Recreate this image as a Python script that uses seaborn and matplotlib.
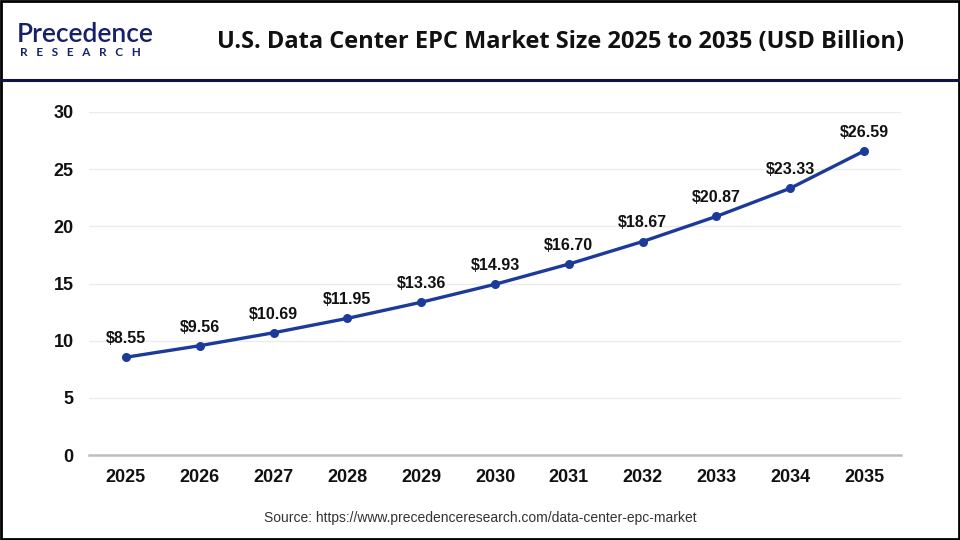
import pandas as pd
import matplotlib.pyplot as plt
import seaborn as sns
from matplotlib.lines import Line2D
from matplotlib.patches import Rectangle

# chart data
years = [2025, 2026, 2027, 2028, 2029, 2030, 2031, 2032, 2033, 2034, 2035]
market_size = [8.55, 9.56, 10.69, 11.95, 13.36, 14.93, 16.70, 18.67, 20.87, 23.33, 26.59]
y_ticks = [0, 5, 10, 15, 20, 25, 30]

title = "U.S. Data Center EPC Market Size 2025 to 2035 (USD Billion)"
source = "Source: https://www.precedenceresearch.com/data-center-epc-market"

df = pd.DataFrame({"year": years, "size": market_size})

sns.set_style("white")
plt.rcParams["font.family"] = ["Liberation Sans", "DejaVu Sans"]

line_color = "#1b3a9a"

fig = plt.figure(figsize=(9.6, 5.4), dpi=100)
ax = fig.add_axes([89 / 960, 85 / 540, 812 / 960, 343 / 540])

sns.lineplot(data=df, x="year", y="size", ax=ax, color=line_color, linewidth=2.4,
             marker="o", markersize=6.5, markeredgewidth=0)

for x, y in zip(years, market_size):
    ax.annotate(f"${y:.2f}", (x, y), xytext=(0, 8), textcoords="offset points",
                ha="center", va="bottom", fontsize=11.5, fontweight="bold", color="#111111")

ax.set_xlim(2024.5, 2035.5)
ax.set_ylim(0, 30)
ax.set_xticks(years)
ax.set_xticklabels([str(y) for y in years])
ax.set_yticks(y_ticks)
ax.set_xlabel("")
ax.set_ylabel("")
ax.grid(axis="y", color="#ebebeb", linewidth=1)
ax.set_axisbelow(True)
for s in ["top", "right", "left"]:
    ax.spines[s].set_visible(False)
ax.spines["bottom"].set_color("#bdbdbd")
ax.spines["bottom"].set_linewidth(1.8)
ax.tick_params(axis="both", length=0, labelsize=13, colors="#111111")
ax.tick_params(axis="x", pad=10)
ax.tick_params(axis="y", pad=11)
for lbl in ax.get_xticklabels() + ax.get_yticklabels():
    lbl.set_fontweight("bold")

# header
fig.text(561 / 960, 1 - 42 / 540, title, ha="center", va="center",
         fontsize=17, fontweight="bold", family="Open Sans", color="#111111")
fig.text(17 / 960, 1 - 34 / 540, "Precedence", ha="left", va="center",
         fontsize=19, fontweight="semibold", family="Lato", color="#16206a")
fig.text(20 / 960, 1 - 53 / 540, "R   E   S   E   A   R   C   H", ha="left", va="center",
         fontsize=8.5, fontweight="bold", family="Lato", color="#16206a")
fig.add_artist(Line2D([0, 1], [1 - 80 / 540] * 2, color="#0e1444", linewidth=2.2,
                      transform=fig.transFigure))

# footer
fig.text(480 / 960, 1 - 518 / 540, source, ha="center", va="center",
         fontsize=10, color="#333333")

# outer frame
fig.add_artist(Rectangle((0.001, 0.001), 0.998, 0.997, fill=False, edgecolor="black",
                         linewidth=2, transform=fig.transFigure))

fig.savefig("out.png", dpi=100)
